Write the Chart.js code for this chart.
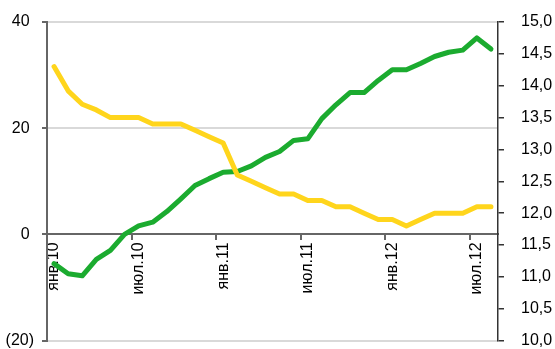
<!DOCTYPE html>
<html>
<head>
<meta charset="utf-8">
<script src="https://cdn.jsdelivr.net/npm/chart.js@4"></script>
<style>
  html, body { margin: 0; padding: 0; background: #fff; }
  #chart { display: block; }
</style>
</head>
<body>
<canvas id="chart" width="555" height="349"></canvas>
<script>
// monthly points, Jan 2010 .. Aug 2012
const categories = [
    'янв.10', 'фев.10', 'мар.10', 'апр.10', 'май.10', 'июн.10',
    'июл.10', 'авг.10', 'сен.10', 'окт.10', 'ноя.10', 'дек.10',
    'янв.11', 'фев.11', 'мар.11', 'апр.11', 'май.11', 'июн.11',
    'июл.11', 'авг.11', 'сен.11', 'окт.11', 'ноя.11', 'дек.11',
    'янв.12', 'фев.12', 'мар.12', 'апр.12', 'май.12', 'июн.12',
    'июл.12', 'авг.12'
];

// left axis
const greenValues = [
    -5.5, -7.4, -7.8, -4.7, -3.0, 0.0, 1.6, 2.3, 4.3, 6.7, 9.2, 10.5,
    11.7, 11.85, 12.9, 14.5, 15.6, 17.7, 18.0, 21.8, 24.4, 26.7, 26.7, 29.0,
    31.0, 31.0, 32.2, 33.5, 34.3, 34.7, 37.0, 34.9
];

// right axis
const yellowValues = [
    14.3, 13.92, 13.71, 13.62, 13.5, 13.5, 13.5, 13.4, 13.4, 13.4, 13.3, 13.2,
    13.1, 12.6, 12.5, 12.4, 12.3, 12.3, 12.2, 12.2, 12.1, 12.1, 12.0, 11.9,
    11.9, 11.8, 11.9, 12.0, 12.0, 12.0, 12.1, 12.1
];

const leftTicks = { min: -20, max: 40, step: 20 };
const rightTicks = { min: 10, max: 15, step: 0.5 };
const labelEvery = 6;

Chart.defaults.font.family = "'Liberation Sans', Arial, sans-serif";
Chart.defaults.font.size = 16;
Chart.defaults.color = '#000';

const GREEN = '#1bab2f';
const YELLOW = '#ffd51c';
const AXIS = '#666';
const GRID = '#d9d9d9';
const NONE = 'rgba(0,0,0,0)';

const lineStyle = {
    borderWidth: 5,
    pointRadius: 0,
    pointHoverRadius: 0,
    tension: 0,
    borderCapStyle: 'round',
    borderJoinStyle: 'round',
    fill: false
};

// fixed axis width; drop the label overhang so the plot keeps its own top/bottom
function fixWidth(width) {
    return (scale) => {
        scale.width = width;
        scale.paddingTop = 0;
        scale.paddingBottom = 0;
    };
}

new Chart(document.getElementById('chart'), {
    type: 'line',
    data: {
        labels: categories,
        datasets: [
            // first dataset is painted last, so yellow sits on top
            { ...lineStyle, data: yellowValues, borderColor: YELLOW, yAxisID: 'y1' },
            { ...lineStyle, data: greenValues, borderColor: GREEN, yAxisID: 'y' }
        ]
    },
    options: {
        responsive: false,
        animation: false,
        events: [],
        layout: { padding: { top: 22, bottom: 8.4, left: 0, right: 0 } },
        plugins: {
            legend: { display: false },
            tooltip: { enabled: false }
        },
        scales: {
            x: {
                position: { y: 0 },
                offset: true,
                grid: {
                    offset: true,
                    drawOnChartArea: false,
                    tickLength: 5,
                    lineWidth: 2,
                    tickColor: (ctx) => (ctx.index % labelEvery === 0 ? AXIS : NONE)
                },
                border: { color: AXIS, width: 2 },
                ticks: {
                    autoSkip: false,
                    minRotation: 90,
                    maxRotation: 90,
                    padding: 3,
                    callback: function (value, index) {
                        return index % labelEvery === 0 ? this.getLabelForValue(value) : '';
                    }
                }
            },
            y: {
                position: 'left',
                min: leftTicks.min,
                max: leftTicks.max,
                ticks: {
                    stepSize: leftTicks.step,
                    padding: 8,
                    // negatives in brackets, positives padded to line up with ')'
                    callback: (v) => (v < 0 ? '(' + (-v) + ')' : v + ' ')
                },
                grid: {
                    color: (ctx) => (ctx.tick && ctx.tick.value === 0 ? NONE : GRID),
                    lineWidth: 2,
                    tickColor: AXIS,
                    tickLength: 5
                },
                border: { color: AXIS, width: 2 },
                afterFit: fixWidth(47)
            },
            y1: {
                position: 'right',
                min: rightTicks.min,
                max: rightTicks.max,
                ticks: {
                    stepSize: rightTicks.step,
                    padding: 17,
                    callback: (v) => v.toFixed(1).replace('.', ',')
                },
                grid: {
                    drawOnChartArea: false,
                    tickColor: '#333',
                    tickLength: 6,
                    lineWidth: 1.5
                },
                border: { color: '#333', width: 1.5 },
                afterFit: fixWidth(57)
            }
        }
    }
});
</script>
</body>
</html>
